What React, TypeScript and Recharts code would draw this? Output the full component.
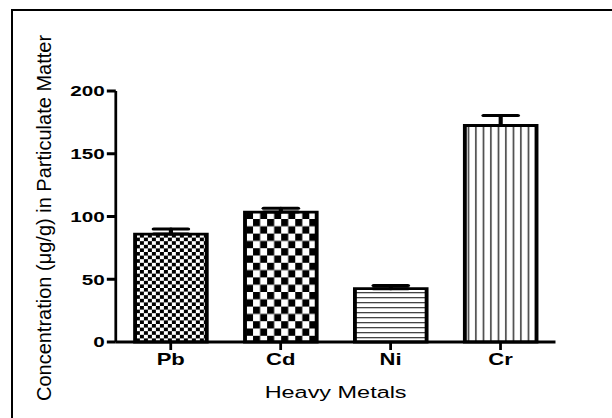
import React from 'react';
import { BarChart, Bar, XAxis, YAxis, Cell, ErrorBar, Label } from 'recharts';

const metals = ['Pb', 'Cd', 'Ni', 'Cr'];
const concentration = [86, 103.5, 42.5, 172.5];
const upperError = [4, 3, 2.5, 8];
const yTicks = [0, 50, 100, 150, 200];
const patternIds = ['patPb', 'patCd', 'patNi', 'patCr'];

const data = metals.map((m, i) => ({ metal: m, value: concentration[i], err: [0, upperError[i]] }));

const W = 444;
const H = 418;
const SX = 612 / W;
const FONT = "Arial, 'Liberation Sans', Helvetica, sans-serif";

const XLabel = (props: any) => {
  const vb = props.viewBox || { x: 0, y: 0, width: 0, height: 0 };
  return (
    <text x={vb.x + vb.width / 2} y={vb.y + 56} textAnchor="middle" fontSize={17} fontFamily={FONT} fill="#000">
      Heavy Metals
    </text>
  );
};

const YLabel = (props: any) => {
  const vb = props.viewBox || { x: 0, y: 0, width: 0, height: 0 };
  const cx = vb.x + 37.2;
  const cy = vb.y + vb.height / 2 + 1.5;
  return (
    <text
      x={0}
      y={0}
      transform={`translate(${cx}, ${cy}) scale(${1 / SX}, 1) rotate(-90)`}
      textAnchor="middle"
      fontSize={20}
      fontFamily={FONT}
      fill="#000"
    >
      Concentration (μg/g) in Particulate Matter
    </text>
  );
};

export default function App() {
  return (
    <div style={{ position: 'absolute', left: 0, top: 0, width: 612, height: 418, overflow: 'hidden', background: '#fff' }}>
      <div style={{ position: 'absolute', left: 11, top: 9, width: 700, height: 500, borderLeft: '2px solid #000', borderTop: '2px solid #000' }} />
      <div style={{ position: 'absolute', left: 0, top: 0, width: W, height: H, transform: `scaleX(${SX})`, transformOrigin: '0 0' }}>
        <BarChart width={W} height={H} data={data} margin={{ top: 91, right: 41, bottom: 36, left: 0 }}>
          <defs>
            <pattern id="patPb" patternUnits="userSpaceOnUse" width={5.8} height={7.2}>
              <rect x={0} y={0} width={5.8} height={7.2} fill="#fff" />
              <rect x={0} y={0} width={2.9} height={3.6} fill="#000" />
              <rect x={2.9} y={3.6} width={2.9} height={3.6} fill="#000" />
            </pattern>
            <pattern id="patCd" patternUnits="userSpaceOnUse" width={10.2} height={14.6}>
              <rect x={0} y={0} width={10.2} height={14.6} fill="#fff" />
              <rect x={0} y={0} width={5.1} height={7.3} fill="#000" />
              <rect x={5.1} y={7.3} width={5.1} height={7.3} fill="#000" />
            </pattern>
            <pattern id="patNi" patternUnits="userSpaceOnUse" width={10} height={5}>
              <rect x={0} y={0} width={10} height={5} fill="#fff" />
              <rect x={0} y={2} width={10} height={1.3} fill="#444" />
            </pattern>
            <pattern id="patCr" patternUnits="userSpaceOnUse" width={5.44} height={10}>
              <rect x={0} y={0} width={5.44} height={10} fill="#fff" />
              <rect x={2} y={0} width={1.1} height={10} fill="#333" />
            </pattern>
          </defs>
          <XAxis
            dataKey="metal"
            height={40}
            tickSize={8}
            tickMargin={4}
            tick={{ fill: '#000', fontSize: 16, fontWeight: 'bold', fontFamily: FONT }}
            axisLine={{ stroke: '#000', strokeWidth: 3 }}
            tickLine={{ stroke: '#000', strokeWidth: 2 }}
          >
            <Label content={<XLabel />} />
          </XAxis>
          <YAxis
            type="number"
            domain={[0, 200]}
            ticks={yTicks}
            interval={0}
            width={84}
            tickSize={6.5}
            tickMargin={1.5}
            tick={{ fill: '#000', fontSize: 15, fontWeight: 'bold', fontFamily: FONT }}
            axisLine={{ stroke: '#000', strokeWidth: 2 }}
            tickLine={{ stroke: '#000', strokeWidth: 3 }}
          >
            <Label content={<YLabel />} />
          </YAxis>
          <Bar dataKey="value" barSize={52} stroke="#000" strokeWidth={2.8} isAnimationActive={false}>
            {data.map((d, i) => (
              <Cell key={d.metal} fill={`url(#${patternIds[i]})`} />
            ))}
            <ErrorBar dataKey="err" direction="y" width={12.5} stroke="#000" strokeWidth={3} strokeLinecap="round" isAnimationActive={false} />
          </Bar>
        </BarChart>
      </div>
    </div>
  );
}
